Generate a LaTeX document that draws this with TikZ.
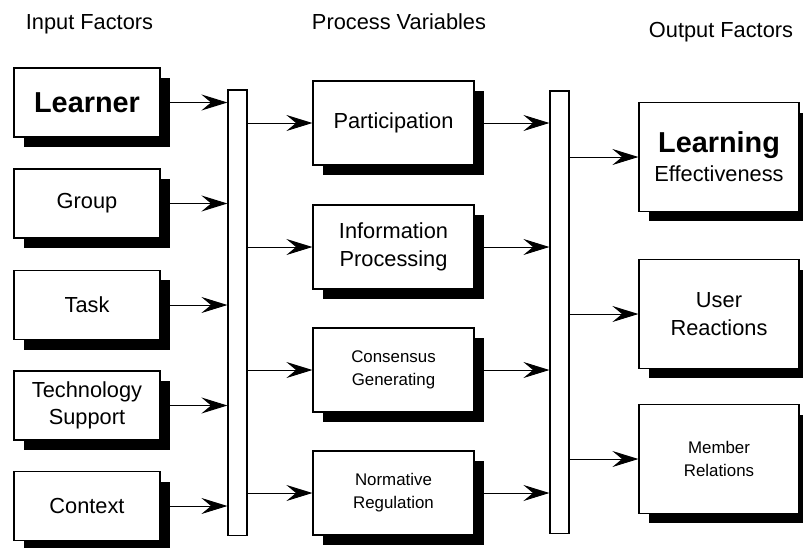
\documentclass[tikz,border=0pt]{standalone}
\usepackage{fontspec}
\setmainfont{Liberation Sans}
\usetikzlibrary{arrows.meta,positioning,shadows}

\begin{document}
\begin{tikzpicture}[x=0.025cm,y=-0.025cm,every node/.style={align=center,font=\fontsize{15.5}{19.5}\selectfont},box/.style={draw,line width=0.8pt,fill=white,drop shadow={shadow xshift=0.25cm,shadow yshift=-0.25cm,fill=black,opacity=1}},inbox/.style={box,minimum width=3.65cm,minimum height=1.725cm},procbox/.style={box,minimum width=4.025cm,minimum height=2.1cm},outbox/.style={box,minimum width=4cm,minimum height=2.72cm},bar/.style={draw,line width=0.8pt,fill=white,minimum width=0.475cm,inner sep=0pt},small/.style={font=\fontsize{12}{16.5}\selectfont},bigbold/.style={font=\fontsize{20.5}{24}\selectfont\bfseries},link/.style={-{Stealth[length=6.5mm,width=4mm,inset=2.4mm]},line width=0.7pt}]
\useasboundingbox (0,0) rectangle (803,547);
% headings
\node[anchor=base] (hin) at (89.5,29) {Input Factors};
\node[anchor=base] (hproc) at (399,29) {Process Variables};
\node[anchor=base] (hout) at (721,37) {Output Factors};
% input factors
\node[inbox,bigbold] (learner) at (87,102.5) {Learner};
\node[inbox] (group) at (87,203.5) {Group};
\node[inbox] (task) at (87,305) {Task};
\node[inbox] (tech) at (87,405.5) {Technology\\Support};
\node[inbox] (context) at (87,506) {Context};
% collecting bars
\node[bar,minimum height=11.125cm] (ibar) at (237.5,312.5) {};
\node[bar,minimum height=11.05cm] (obar) at (559.5,312) {};
% process variables
\node[procbox] (part) at (393.5,123) {Participation};
\node[procbox] (info) at (393.5,247) {Information\\Processing};
\node[procbox,small] (cons) at (393.5,370) {Consensus\\Generating};
\node[procbox,small] (norm) at (393.5,493) {Normative\\Regulation};
% output factors
\node[outbox] (learn) at (719,157) {{\fontsize{20.5}{24}\selectfont\bfseries Learning}\\[1pt]Effectiveness};
\node[outbox] (react) at (719,314) {User\\Reactions};
\node[outbox,small] (member) at (719,459) {Member\\Relations};
% links
\foreach \n in {learner,group,task,tech,context}
  \draw[link] (\n.east) -- (\n.east -| ibar.west);
\foreach \n in {part,info,cons,norm}
  \draw[link] (ibar.east |- \n.west) -- (\n.west);
\foreach \n in {part,info,cons,norm}
  \draw[link] (\n.east) -- (\n.east -| obar.west);
\foreach \n in {learn,react,member}
  \draw[link] (obar.east |- \n.west) -- (\n.west);
\end{tikzpicture}
\end{document}
